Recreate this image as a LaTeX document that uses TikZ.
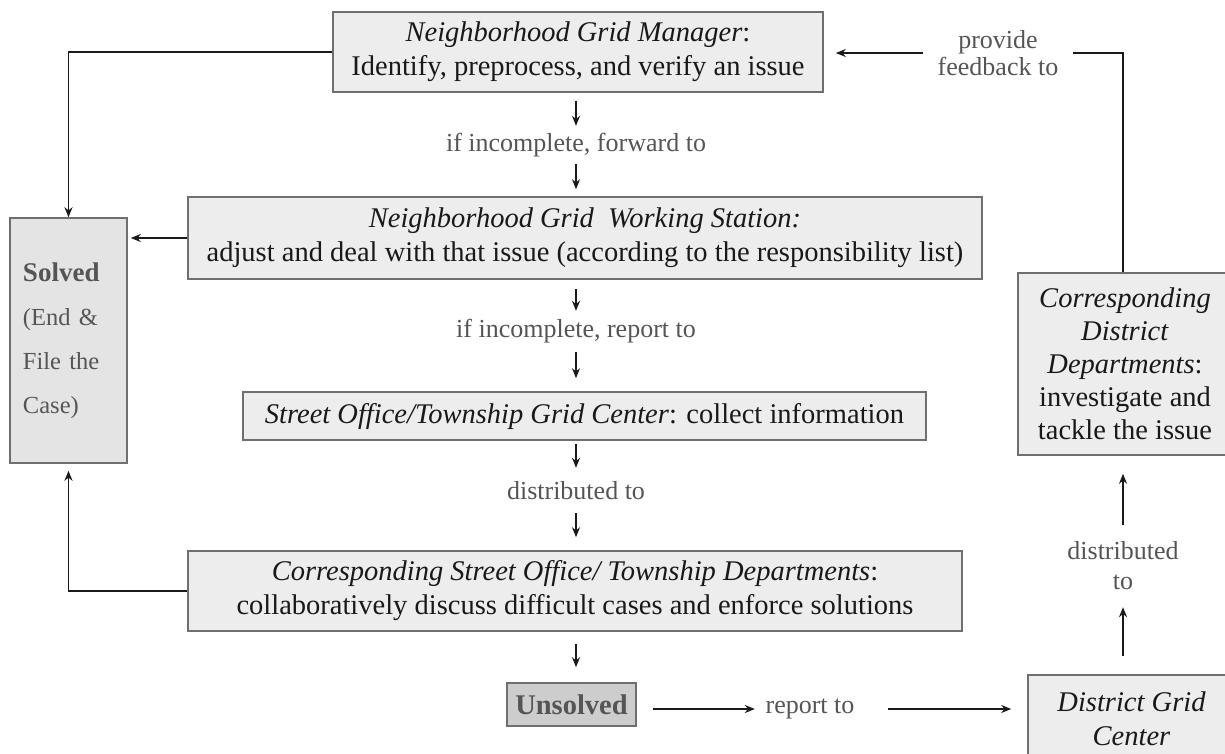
\documentclass[tikz,border=0pt]{standalone}
\usepackage{fontspec}
\setmainfont{Liberation Serif}
\usetikzlibrary{arrows.meta}
\definecolor{boxfill}{HTML}{EDEDED}
\definecolor{solvedfill}{HTML}{E4E4E4}
\definecolor{unsolvedfill}{HTML}{CDCDCD}
\definecolor{boxline}{HTML}{6F6F6F}
\definecolor{labelgray}{HTML}{555555}
\definecolor{linecol}{HTML}{1A1A1A}
\begin{document}
\begin{tikzpicture}[x=1pt,y=-1pt,
  box/.style={draw=boxline, line width=1.6pt, fill=boxfill, inner sep=0pt, align=center,
    font=\fontsize{28.5}{34}\selectfont, text=black!90},
  lbl/.style={inner sep=0pt, align=center, text=labelgray, font=\fontsize{26}{30}\selectfont},
  conn/.style={draw=linecol, line width=1.6pt},
  arr/.style={conn, -{Stealth[length=10pt,width=8pt]}},
]
\useasboundingbox (0,0) rectangle (1225,754);
\clip (0,0) rectangle (1225,754);
\fill[white] (0,0) rectangle (1225,754);

% boxes
\node[box, minimum width=490pt, minimum height=80pt] (mgr) at (578,52)
  {\textit{Neighborhood Grid Manager}:\\Identify, preprocess, and verify an issue};
\node[box, minimum width=794pt, minimum height=82pt] (ws) at (585,238)
  {\textit{Neighborhood Grid\ \ Working Station:}\\adjust and deal with that issue (according to the responsibility list)};
\node[box, minimum width=683pt, minimum height=48pt] (soc) at (584.5,416)
  {\textit{Street Office/Township Grid Center}: collect information};
\node[box, minimum width=774pt, minimum height=80pt] (dep) at (575,591)
  {\textit{Corresponding Street Office/ Township Departments}:\\collaboratively discuss difficult cases and enforce solutions};
\node[box, fill=unsolvedfill, minimum width=129pt, minimum height=43pt, text=labelgray] (uns) at (571.5,704.5)
  {\textbf{Unsolved}};
\node[box, fill=solvedfill, minimum width=117pt, minimum height=245pt, text width=91pt, inner xsep=13pt,
  align=left, text=labelgray, font=\fontsize{24.5}{44}\selectfont] (sol) at (68.5,340.5)
  {{\fontsize{27}{44}\selectfont\textbf{Solved}}\\(End \&\\File the\\Case)};
\node[box, minimum width=207pt, minimum height=87pt] (dgc) at (1131.5,718.5)
  {\textit{District Grid}\\\textit{Center}};
\node[box, minimum width=214pt, minimum height=182pt, font=\fontsize{28.5}{33}\selectfont] (cdd) at (1125,364)
  {\textit{Corresponding}\\\textit{District}\\\textit{Departments}:\\investigate and\\tackle the issue};

% labels
\node[lbl, minimum height=38pt] (l1) at (576,145) {if incomplete, forward to};
\node[lbl, minimum height=41pt] (l2) at (576,331.5) {if incomplete, report to};
\node[lbl, minimum height=45pt] (l3) at (576,490.5) {distributed to};
\node[lbl, minimum width=110pt] (l4) at (810,709) {report to};
\node[lbl, minimum height=82pt] (l5) at (1123,566) {distributed\\to};
\node[lbl, minimum width=150pt, font=\fontsize{26}{27}\selectfont] (l6) at (998,53) {provide\\feedback to};

% connectors to Solved
\draw[arr] (mgr.west) -| (sol.north);
\draw[arr, shorten >=3pt] (ws.west) -- (sol.east |- ws.west);
\draw[arr, shorten >=7pt] (dep.west) -| (sol.south);

% main column
\draw[arr, shorten <=8pt] (l1.north |- mgr.south) -- (l1.north);
\draw[arr, shorten >=7pt] (l1.south) -- (l1.south |- ws.north);
\draw[arr, shorten <=9pt] (l2.north |- ws.south) -- (l2.north);
\draw[arr, shorten >=13pt] (l2.south) -- (l2.south |- soc.north);
\draw[arr, shorten <=3pt] (l3.north |- soc.south) -- (l3.north);
\draw[arr, shorten >=13pt] (l3.south) -- (l3.south |- dep.north);
\draw[arr, shorten <=12pt, shorten >=15pt] (dep.south -| l3.south) -- (uns.north -| l3.south);

% bottom row
\draw[arr, shorten <=16pt] (uns.east |- l4.west) -- (l4.west);
\draw[arr, shorten <=23pt, shorten >=16pt] (l4.east) -- (dgc.west |- l4.east);

% right column
\draw[arr, shorten <=18pt] (l5.south |- dgc.north) -- (l5.south);
\draw[arr, shorten >=18pt] (l5.north) -- (l5.north |- cdd.south);
\draw[conn] (cdd.north -| l5.north) |- (l6.east);
\draw[arr, shorten >=12pt] (l6.west) -- (mgr.east |- l6.west);
\end{tikzpicture}
\end{document}
